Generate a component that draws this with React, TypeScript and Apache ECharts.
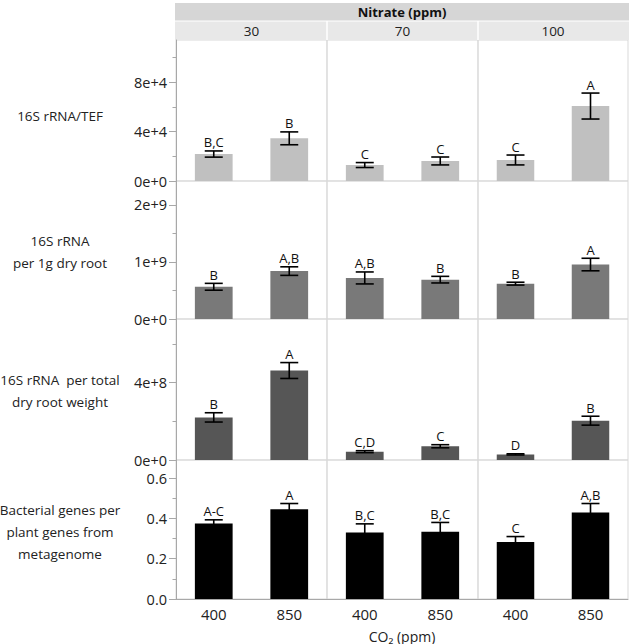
import React, { useEffect, useRef } from 'react';
import * as echarts from 'echarts';

// ---------- data ----------
const nitrateLevels = ['30', '70', '100'];
const co2Levels = ['400', '850'];
const rowTitles = [
  '16S rRNA/TEF',
  '16S rRNA\nper 1g dry root',
  '16S rRNA  per total\ndry root weight',
  'Bacterial genes per\nplant genes from\nmetagenome',
];
// order: [N30/400, N30/850, N70/400, N70/850, N100/400, N100/850]
const tefMean = [21800, 34500, 12900, 16200, 17000, 60600];
const tefSE = [2500, 5200, 2000, 3200, 4000, 10500];
const tefLetters = ['B,C', 'B', 'C', 'C', 'C', 'A'];

const dryMean = [0.565e9, 0.84e9, 0.72e9, 0.69e9, 0.62e9, 0.955e9];
const drySE = [0.06e9, 0.075e9, 0.105e9, 0.058e9, 0.025e9, 0.11e9];
const dryLetters = ['B', 'A,B', 'A,B', 'B', 'B', 'A'];

const totalMean = [2.2e8, 4.62e8, 0.43e8, 0.71e8, 0.29e8, 2.03e8];
const totalSE = [0.24e8, 0.41e8, 0.05e8, 0.08e8, 0.03e8, 0.23e8];
const totalLetters = ['B', 'A', 'C,D', 'C', 'D', 'B'];

const bactMean = [0.375, 0.446, 0.33, 0.334, 0.283, 0.43];
const bactSE = [0.018, 0.028, 0.043, 0.046, 0.027, 0.044];
const bactLetters = ['A-C', 'A', 'B,C', 'B,C', 'C', 'A,B'];

const rowMax = [114000, 2.42e9, 7.28e8, 0.69];
const majorTicks = [
  [0, 40000, 80000],
  [0, 1e9, 2e9],
  [0, 4e8],
  [0, 0.2, 0.4, 0.6],
];
const minorTicks = [
  [20000, 60000, 100000],
  [0.5e9, 1.5e9],
  [2e8, 6e8],
  [0.1, 0.3, 0.5],
];

// ---------- layout / style ----------
const FONT = '"Open Sans", "Noto Sans", sans-serif';
const rowColors = ['#c0c0c0', '#797979', '#565656', '#000000'];
const colLeft = [176, 327, 478];
const colWidth = [151, 151, 150];
const rowTop = [40, 181, 319, 460];
const rowHeight = [141, 138, 141, 139];
const titleY = [116, 252, 391, 532];

function sciFmt(v: number): string {
  if (v === 0) return '0e+0';
  const e = Math.floor(Math.log10(v) + 1e-9);
  const m = Math.round((v / Math.pow(10, e)) * 100) / 100;
  return `${m}e+${e}`;
}

export default function App() {
  const ref = useRef<HTMLDivElement>(null);
  useEffect(() => {
    if (!ref.current) return;
    const chart = echarts.init(ref.current, undefined, { renderer: 'svg' });
    const means = [tefMean, dryMean, totalMean, bactMean];
    const ses = [tefSE, drySE, totalSE, bactSE];
    const letters = [tefLetters, dryLetters, totalLetters, bactLetters];

    const grid: any[] = [];
    const xAxis: any[] = [];
    const yAxis: any[] = [];
    const series: any[] = [];

    for (let r = 0; r < 4; r++) {
      for (let c = 0; c < 3; c++) {
        const g = r * 3 + c;
        grid.push({
          left: colLeft[c], top: rowTop[r], width: colWidth[c], height: rowHeight[r],
          show: true, borderColor: '#d9d9d9', borderWidth: 1, backgroundColor: 'transparent',
        });
        xAxis.push({
          type: 'category', gridIndex: g, data: co2Levels,
          axisTick: { show: false },
          axisLine: { show: r === 3, lineStyle: { color: '#a8a8a8' } },
          axisLabel: { show: r === 3, fontSize: 15, color: '#222', fontFamily: FONT, margin: 7 },
        });
        const isFirst = c === 0;
        yAxis.push({
          type: 'value', gridIndex: g, min: 0, max: rowMax[r],
          splitLine: { show: false },
          axisLine: { show: isFirst, lineStyle: { color: '#a8a8a8' } },
          axisTick: { show: isFirst, length: 7, customValues: majorTicks[r], lineStyle: { color: '#a8a8a8' } },
          axisLabel: {
            show: isFirst, customValues: majorTicks[r], fontSize: 14.5, color: '#222', fontFamily: FONT, margin: 9,
            formatter: (v: number) => (r === 3 ? v.toFixed(1) : sciFmt(v)),
          },
        });
        const vals = [means[r][c * 2], means[r][c * 2 + 1]];
        series.push({
          type: 'bar', xAxisIndex: g, yAxisIndex: g, data: vals, barWidth: '50%', z: 2,
          itemStyle: { color: rowColors[r] }, silent: true,
        });
        const errData = [0, 1].map((k) => [k, means[r][c * 2 + k], ses[r][c * 2 + k]]);
        const lbl = [letters[r][c * 2], letters[r][c * 2 + 1]];
        series.push({
          type: 'custom', xAxisIndex: g, yAxisIndex: g, data: errData, silent: true, z: 10,
          encode: { x: 0, y: 1 },
          renderItem: (params: any, api: any) => {
            const x = api.value(0);
            const m = api.value(1);
            const s = api.value(2);
            const top = api.coord([x, m + s]);
            const bot = api.coord([x, m - s]);
            const hw = 9;
            const st = { stroke: '#000', lineWidth: 1.6 };
            return {
              type: 'group',
              children: [
                { type: 'line', shape: { x1: top[0], y1: top[1], x2: bot[0], y2: bot[1] }, style: st },
                { type: 'line', shape: { x1: top[0] - hw, y1: top[1], x2: top[0] + hw, y2: top[1] }, style: st },
                { type: 'line', shape: { x1: bot[0] - hw, y1: bot[1], x2: bot[0] + hw, y2: bot[1] }, style: st },
                {
                  type: 'text', x: top[0], y: top[1] - 2,
                  style: {
                    text: lbl[params.dataIndex], align: 'center', verticalAlign: 'bottom',
                    fontSize: 13, fill: '#111', fontFamily: FONT,
                  },
                },
              ],
            };
          },
        });
      }
    }
    // minor-tick helper grids (column 0)
    for (let r = 0; r < 4; r++) {
      const g = grid.length;
      grid.push({ left: colLeft[0], top: rowTop[r], width: 1, height: rowHeight[r], show: false });
      xAxis.push({ type: 'value', gridIndex: g, show: false, min: 0, max: 1 });
      yAxis.push({
        type: 'value', gridIndex: g, min: 0, max: rowMax[r],
        splitLine: { show: false },
        axisLine: { show: false },
        axisTick: { show: true, length: 3.5, customValues: minorTicks[r], lineStyle: { color: '#a8a8a8' } },
        axisLabel: { show: false },
      });
    }

    const graphic: any[] = [
      { type: 'rect', shape: { x: 175, y: 3, width: 454, height: 18 }, style: { fill: '#d6d6d6' } },
      { type: 'rect', shape: { x: 175, y: 21, width: 454, height: 19 }, style: { fill: '#e8e8e8' } },
      { type: 'line', shape: { x1: 175, y1: 21, x2: 629, y2: 21 }, style: { stroke: '#fff', lineWidth: 1 } },
      { type: 'line', shape: { x1: 327, y1: 21, x2: 327, y2: 40 }, style: { stroke: '#fff', lineWidth: 1.5 } },
      { type: 'line', shape: { x1: 478, y1: 21, x2: 478, y2: 40 }, style: { stroke: '#fff', lineWidth: 1.5 } },
      {
        type: 'text', x: 402, y: 12,
        style: { text: 'Nitrate (ppm)', align: 'center', verticalAlign: 'middle', fontSize: 13, fontWeight: 'bold', fill: '#111', fontFamily: FONT },
      },
      ...nitrateLevels.map((n, i) => ({
        type: 'text', x: colLeft[i] + colWidth[i] / 2, y: 31,
        style: { text: n, align: 'center', verticalAlign: 'middle', fontSize: 13.5, fill: '#222', fontFamily: FONT },
      })),
      ...rowTitles.map((t, i) => ({
        type: 'text', x: 60, y: titleY[i],
        style: { text: t, align: 'center', verticalAlign: 'middle', fontSize: 13.5, lineHeight: 22, fill: '#222', fontFamily: FONT },
      })),
      {
        type: 'text', x: 402, y: 636,
        style: { text: 'CO₂ (ppm)', align: 'center', verticalAlign: 'middle', fontSize: 14, fill: '#222', fontFamily: FONT },
      },
    ];

    chart.setOption({
      animation: false,
      backgroundColor: '#fff',
      grid, xAxis, yAxis, series, graphic,
    });
    return () => chart.dispose();
  }, []);
  return <div ref={ref} style={{ position: 'fixed', left: 0, top: 0, width: 632, height: 644 }} />;
}
